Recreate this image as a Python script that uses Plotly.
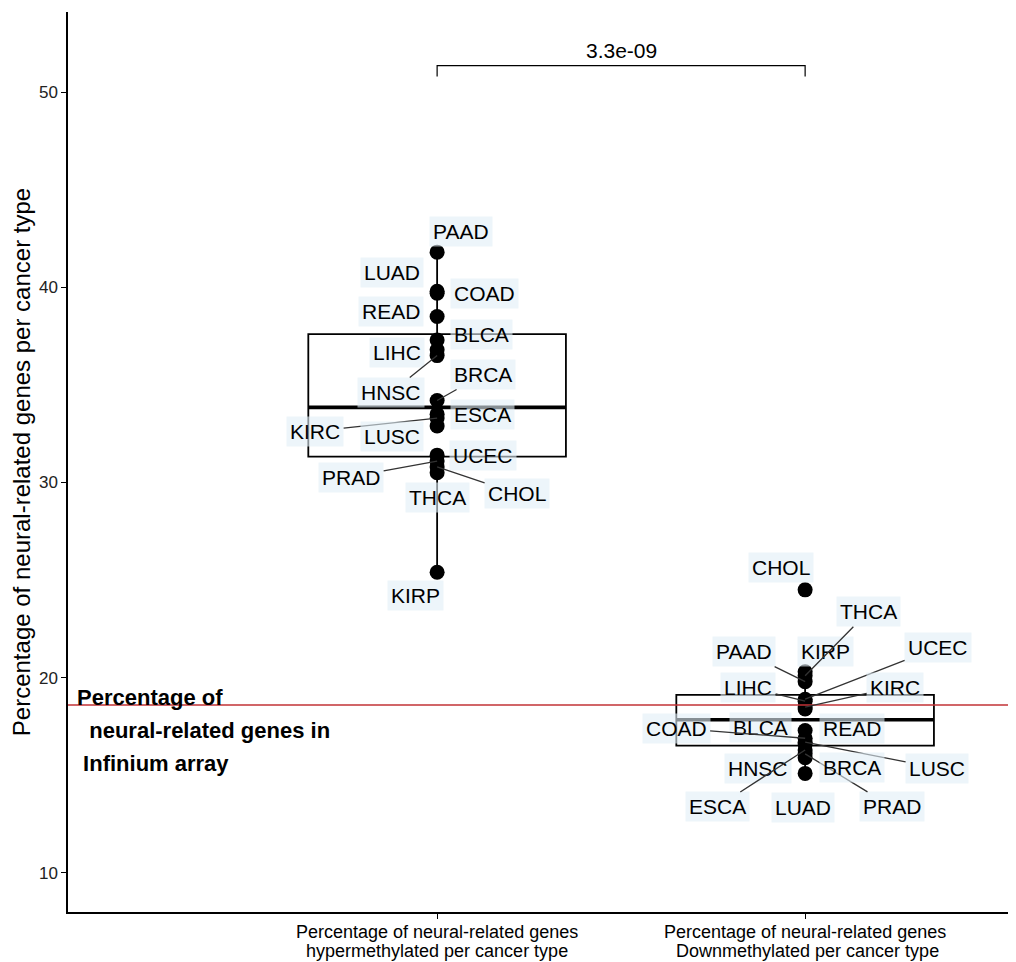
import numpy as np
import plotly.graph_objects as go

# ---------------- data ----------------
group_line1 = ["Percentage of neural-related genes", "Percentage of neural-related genes"]
group_line2 = ["hypermethylated per cancer type", "\u00a0Downmethylated per cancer type"]

hyper_types = ["PAAD", "LUAD", "COAD", "READ", "BLCA", "LIHC", "HNSC", "BRCA",
               "ESCA", "KIRC", "LUSC", "UCEC", "PRAD", "CHOL", "THCA", "KIRP"]
hyper_values = [41.8, 39.8, 39.7, 38.5, 37.3, 36.8, 36.5, 34.2,
                33.5, 33.3, 32.9, 31.4, 31.1, 30.8, 30.5, 25.4]

down_types = ["CHOL", "KIRP", "THCA", "PAAD", "UCEC", "LIHC", "KIRC", "BLCA",
              "READ", "COAD", "LUSC", "HNSC", "ESCA", "PRAD", "BRCA", "LUAD"]
down_values = [24.5, 20.3, 20.1, 19.8, 18.9, 18.8, 18.5, 18.4,
               17.3, 16.9, 16.7, 16.6, 16.3, 16.1, 15.9, 15.1]

array_percentage = 18.6
p_value_text = "3.3e-09"
y_ticks = [10, 20, 30, 40, 50]

# ---------------- label placement (pixel offsets, layout only) ----------------
hyper_label_offsets = {
    "PAAD": (24, -21, False), "LUAD": (-45, -19, False), "COAD": (47, 0, False),
    "READ": (-46, -5, False), "BLCA": (44, -5, False), "LIHC": (-40, 3, False),
    "HNSC": (-46, 37, True), "BRCA": (46, -26, True), "ESCA": (45, 0, False),
    "KIRC": (-122, 13, True), "LUSC": (-45, 11, False), "UCEC": (46, 0, False),
    "PRAD": (-86, 16, True), "CHOL": (80, 27, True), "THCA": (0, 25, False),
    "KIRP": (-22, 23, False),
}
down_label_offsets = {
    "CHOL": (-24, -22, False), "KIRP": (20, -20, False), "THCA": (63, -64, True),
    "PAAD": (-61, -30, True), "UCEC": (133, -52, True), "LIHC": (-57, -14, True),
    "KIRC": (90, -20, True), "BLCA": (-45, 19, False), "READ": (47, -2, False),
    "COAD": (-129, -10, True), "LUSC": (132, 26, True), "HNSC": (-47, 24, False),
    "ESCA": (-88, 57, True), "PRAD": (87, 53, True), "BRCA": (47, 10, False),
    "LUAD": (-2, 34, False),
}

FONT = "Liberation Sans, Arial, sans-serif"
BOX_WIDTH = 0.7
LABEL_FONT = dict(family=FONT, size=21, color="black")
LABEL_BG = "rgba(225,238,246,0.6)"
PLOT_H = 900

fig = go.Figure()

groups = [(hyper_values, hyper_types, hyper_label_offsets),
          (down_values, down_types, down_label_offsets)]

for gi, (vals, types, offs) in enumerate(groups):
    arr = np.array(vals)
    q1, med, q3 = np.percentile(arr, [25, 50, 75])
    iqr = q3 - q1
    lo = arr[arr >= q1 - 1.5 * iqr].min()
    hi = arr[arr <= q3 + 1.5 * iqr].max()
    fig.add_trace(go.Box(
        x=[gi], q1=[q1], median=[med], q3=[q3], lowerfence=[lo], upperfence=[hi],
        width=BOX_WIDTH, whiskerwidth=0, fillcolor="white",
        line=dict(color="black", width=1.8), boxpoints=False,
        showlegend=False, hoverinfo="skip",
    ))
    fig.add_trace(go.Scatter(
        x=[gi - BOX_WIDTH / 2, gi + BOX_WIDTH / 2], y=[med, med], mode="lines",
        line=dict(color="black", width=3.6), showlegend=False, hoverinfo="skip",
    ))
    fig.add_trace(go.Scatter(
        x=[gi] * len(arr), y=arr, mode="markers", text=types,
        marker=dict(color="black", size=15), showlegend=False,
    ))
    for t, v in zip(types, vals):
        dx, dy, seg = offs[t]
        fig.add_annotation(
            x=gi, y=v, xref="x", yref="y", text=t, showarrow=True,
            ax=dx, ay=dy, axref="pixel", ayref="pixel",
            arrowhead=0, arrowwidth=1.3,
            arrowcolor="#333333" if seg else "rgba(0,0,0,0)",
            font=LABEL_FONT, bgcolor=LABEL_BG, borderpad=3,
        )
    # category labels (two tight lines)
    fig.add_annotation(x=gi, xref="x", yref="paper", y=-20 / PLOT_H,
                       text=group_line1[gi], showarrow=False, yanchor="middle",
                       font=dict(family=FONT, size=18, color="black"))
    fig.add_annotation(x=gi, xref="x", yref="paper", y=-39 / PLOT_H,
                       text=group_line2[gi], showarrow=False, yanchor="middle",
                       font=dict(family=FONT, size=18, color="black"))

# reference line
fig.add_shape(type="line", xref="paper", x0=0, x1=1, yref="y",
              y0=array_percentage, y1=array_percentage,
              line=dict(color="#C23236", width=1.5), layer="above")

# significance bracket
all_max = max(max(hyper_values), max(down_values))
br_top = all_max + 9.55
br_bot = br_top - 0.55
fig.add_trace(go.Scatter(
    x=[0, 0, 1, 1], y=[br_bot, br_top, br_top, br_bot], mode="lines",
    line=dict(color="black", width=1.2), showlegend=False, hoverinfo="skip",
))
fig.add_annotation(x=0.5, y=br_top, xref="x", yref="y", text=p_value_text,
                   showarrow=False, yanchor="bottom", yshift=2,
                   font=dict(family=FONT, size=21, color="black"))

# side text
side_font = dict(family=FONT, size=22, color="black")
side_lines = ["<b>Percentage of</b>",
              "<b>\u00a0\u00a0neural-related genes in</b>",
              "<b>\u00a0Infinium array</b>"]
for i, s in enumerate(side_lines):
    fig.add_annotation(xref="paper", yref="paper", x=0, xshift=7,
                       y=(912 - 697 - 33 * i) / PLOT_H, text=s, showarrow=False,
                       xanchor="left", yanchor="middle", font=side_font)

# page body has an 8px margin, so the figure is sized/positioned to compensate
fig.update_layout(
    width=1008, height=954,
    margin=dict(l=60, r=0, t=4, b=50),
    plot_bgcolor="white", paper_bgcolor="white",
    font=dict(family=FONT, color="black"),
    xaxis=dict(range=[-1.003, 1.573], tickvals=[0, 1], ticktext=["", ""],
               showgrid=False, zeroline=False, showline=True, linecolor="black",
               linewidth=1.5, ticks="outside", ticklen=5, tickcolor="black",
               automargin=False),
    yaxis=dict(range=[8.0, 54.1], tickvals=y_ticks, showgrid=False, zeroline=False,
               showline=True, linecolor="black", linewidth=1.5, ticks="outside",
               ticklen=5, tickcolor="black", tickfont=dict(size=17, color="#222"),
               automargin=False,
               title=dict(text="\u00a0\u00a0\u00a0\u00a0Percentage of neural-related genes per cancer type",
                          font=dict(size=24, color="black"), standoff=5)),
)

fig.write_html("out.html")
